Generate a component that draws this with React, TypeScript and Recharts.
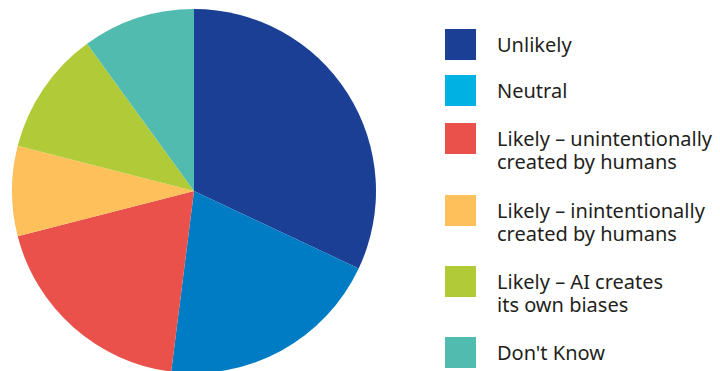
import { PieChart, Pie, Cell, Legend } from "recharts";

const categories = [
  "Unlikely",
  "Neutral",
  "Likely – unintentionally\ncreated by humans",
  "Likely – inintentionally\ncreated by humans",
  "Likely – AI creates\nits own biases",
  "Don't Know",
];
const shares = [32, 20, 19, 8, 11, 10];
const sliceColors = ["#1a3f94", "#007cc4", "#e9514a", "#fdc05a", "#b1cb38", "#50bbae"];
const legendColors = ["#1a3f94", "#00b1e3", "#e9514a", "#fdc05a", "#b1cb38", "#50bbae"];

const data = categories.map((name, i) => ({ name, value: shares[i] }));

// legend rows: top y of each swatch
const rowTops = [29, 75, 123, 195, 266, 337];

function LegendBlock() {
  return (
    <div style={{ position: "relative", width: 290, height: 371 }}>
      {categories.map((name, i) => (
        <div key={name}>
          <div
            style={{
              position: "absolute",
              left: 15,
              top: rowTops[i],
              width: 31,
              height: 31,
              background: legendColors[i],
            }}
          />
          {/* one text node per label, line break kept by white-space: pre */}
          <div
            style={{
              position: "absolute",
              left: 67,
              top: rowTops[i] + 4,
              fontFamily: "'Noto Sans', sans-serif",
              fontSize: 20,
              lineHeight: "23px",
              color: "#231f20",
              whiteSpace: "pre",
              textAlign: "left",
            }}
          >
            {name}
          </div>
        </div>
      ))}
    </div>
  );
}

export default function App() {
  return (
    <div style={{ position: "absolute", left: 0, top: 0, width: 720, height: 371, background: "#fff" }}>
      <PieChart width={720} height={371} margin={{ top: 0, right: 0, bottom: 0, left: 0 }}>
        <Pie
          data={data}
          dataKey="value"
          nameKey="name"
          cx={194}
          cy={191}
          outerRadius={182}
          startAngle={90}
          endAngle={-270}
          stroke="none"
          isAnimationActive={false}
        >
          {data.map((d, i) => (
            <Cell key={d.name} fill={sliceColors[i]} />
          ))}
        </Pie>
        <Legend
          content={() => <LegendBlock />}
          wrapperStyle={{ position: "absolute", left: 430, top: 0, width: 290, height: 371 }}
        />
      </PieChart>
    </div>
  );
}
